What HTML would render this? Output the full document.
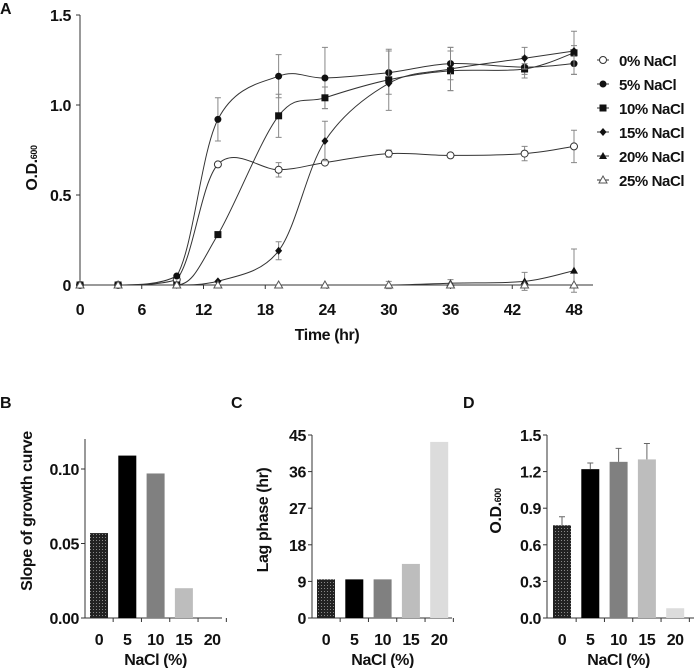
<!DOCTYPE html>
<html><head><meta charset="utf-8">
<style>
html,body{margin:0;padding:0;background:#fff;}
svg{display:block;}
text{font-family:"Liberation Sans",Arial,sans-serif;font-weight:bold;fill:#111;letter-spacing:-0.4px;}
</style></head>
<body>
<svg id="fig" width="694" height="668" viewBox="0 0 694 668" xmlns="http://www.w3.org/2000/svg">
<defs>
<pattern id="dots" width="3" height="3" patternUnits="userSpaceOnUse">
<rect width="3" height="3" fill="#222"/><rect x="0" y="0" width="1" height="1" fill="#888"/>
</pattern>
</defs>
</svg>
<script>
// ---- Panel A data ----
const timesA = [0, 3.7, 9.4, 13.4, 19.3, 23.8, 30, 36, 43.2, 48];
const od0  = [0, 0, 0.03, 0.67, 0.64, 0.68, 0.73, 0.72, 0.73, 0.77];
const od5  = [0, 0, 0.05, 0.92, 1.16, 1.15, 1.18, 1.23, 1.21, 1.23];
const od10 = [0, 0, 0, 0.28, 0.94, 1.04, 1.14, 1.19, 1.20, 1.29];
const od15 = [0, 0, 0, 0.02, 0.19, 0.80, 1.12, 1.20, 1.26, 1.30];
const od20 = [0, 0, 0, 0, 0, 0, 0, 0.01, 0.02, 0.08];
const od25 = [0, 0, 0, 0, 0, 0, 0, 0, 0, 0];
const err0  = [0, 0, 0, 0, 0.04, 0, 0.02, 0, 0.04, 0.09];
const err5  = [0, 0, 0, 0.12, 0.12, 0.17, 0.12, 0.09, 0.06, 0.06];
const err10 = [0, 0, 0, 0, 0.12, 0.06, 0.17, 0.11, 0.03, 0.12];
const err15 = [0, 0, 0, 0, 0.05, 0.11, 0, 0.12, 0.06, 0.03];
const err20 = [0, 0, 0, 0, 0, 0, 0.02, 0.02, 0.05, 0.12];
const err25 = [0, 0, 0, 0, 0, 0, 0, 0, 0, 0];
const xTicksA = [0, 6, 12, 18, 24, 30, 36, 42, 48];
const yTicksA = [0, 0.5, 1.0, 1.5];
const yTickLabelsA = ["0", "0.5", "1.0", "1.5"];
const legendLabels = ["0% NaCl", "5% NaCl", "10% NaCl", "15% NaCl", "20% NaCl", "25% NaCl"];
// ---- Panels B/C/D data ----
const nacl = ["0", "5", "10", "15", "20"];
const slopes = [0.057, 0.109, 0.097, 0.020, 0];
const lagPhase = [9.5, 9.5, 9.5, 13.3, 43.3];
const finalOD = [0.76, 1.22, 1.28, 1.30, 0.08];
const finalErr = [0.07, 0.05, 0.11, 0.13, 0];
const yTicksB = [0, 0.05, 0.10];
const yTickLabelsB = ["0.00", "0.05", "0.10"];
const yTicksC = [0, 9, 18, 27, 36, 45];
const yTicksD = [0, 0.3, 0.6, 0.9, 1.2, 1.5];
const yTickLabelsD = ["0.0", "0.3", "0.6", "0.9", "1.2", "1.5"];

const NS = "http://www.w3.org/2000/svg";
const svg = document.getElementById("fig");
function mk(tag, attrs, parent) {
  const e = document.createElementNS(NS, tag);
  for (const k in attrs) e.setAttribute(k, attrs[k]);
  (parent || svg).appendChild(e);
  return e;
}
function txt(s, x, y, size, anchor, parent) {
  const t = mk("text", {x: x, y: y, "font-size": size, "text-anchor": anchor || "middle"}, parent);
  t.textContent = s;
  return t;
}

// ===== Panel A =====
const gA = mk("g", {});


const ax = t => 80 + (t / 48) * (574 - 80);
const ay = v => 285 - (v / 1.5) * (285 - 15);
const lblA = txt("A", 0, 14, 16, "start", gA);


const axA = mk("path", {d: `M80,${ay(1.5)} V285 H593`, stroke: "#333", "stroke-width": 1, fill: "none"}, gA);


yTicksA.forEach((v, i) => {
  mk("line", {x1: 76, x2: 80, y1: ay(v), y2: ay(v), stroke: "#333"}, gA);
  const t = txt(yTickLabelsA[i], 71, ay(v) + 6, 16, "end", gA);
  
  
});
xTicksA.forEach(v => {
  mk("line", {x1: ax(v), x2: ax(v), y1: 285, y2: 289, stroke: "#333"}, gA);
  const t = txt(String(v), ax(v), 315, 16, "middle", gA);
  
  
});
const xtA = txt("Time (hr)", ax(24), 340, 16, "middle", gA);


const ytA = mk("text", {x: 0, y: 0, "font-size": 16, "text-anchor": "middle", transform: `translate(37,168) rotate(-90)`}, gA);
ytA.innerHTML = 'O.D.<tspan font-size="9">600</tspan>';



const yFloor = ay(0);
function smoothPath(pts) {
  let d = `M${pts[0][0]},${pts[0][1]}`;
  for (let i = 0; i < pts.length - 1; i++) {
    const p0 = pts[i - 1] || pts[i], p1 = pts[i], p2 = pts[i + 1], p3 = pts[i + 2] || p2;
    const c1 = [p1[0] + (p2[0] - p0[0]) / 6, Math.min(yFloor, p1[1] + (p2[1] - p0[1]) / 6)];
    const c2 = [p2[0] - (p3[0] - p1[0]) / 6, Math.min(yFloor, p2[1] - (p3[1] - p1[1]) / 6)];
    if (p1[1] === yFloor && p2[1] === yFloor) { c1[1] = yFloor; c2[1] = yFloor; }
    if (p1[1] === yFloor) c1[1] = yFloor;
    d += ` C${c1[0]},${c1[1]} ${c2[0]},${c2[1]} ${p2[0]},${p2[1]}`;
  }
  return d;
}
function marker(type, x, y, parent) {
  let m;
  if (type === "circle-open") m = mk("circle", {cx: x, cy: y, r: 3.5, fill: "#fff", stroke: "#333", "stroke-width": 1}, parent);
  else if (type === "circle") m = mk("circle", {cx: x, cy: y, r: 3.5, fill: "#111"}, parent);
  else if (type === "square") m = mk("rect", {x: x - 3.5, y: y - 3.5, width: 7, height: 7, fill: "#111"}, parent);
  else if (type === "diamond") m = mk("path", {d: `M${x},${y-4} L${x+3.5},${y} L${x},${y+4} L${x-3.5},${y} Z`, fill: "#111"}, parent);
  else if (type === "tri") m = mk("path", {d: `M${x},${y-4} L${x+4},${y+3} L${x-4},${y+3} Z`, fill: "#111"}, parent);
  else m = mk("path", {d: `M${x},${y-4} L${x+4},${y+3} L${x-4},${y+3} Z`, fill: "#fff", stroke: "#555"}, parent);
  return m;
}
const seriesVals = [od0, od5, od10, od15, od20, od25];
const seriesErr = [err0, err5, err10, err15, err20, err25];
const markerTypes = ["circle-open", "circle", "square", "diamond", "tri", "tri-open"];
seriesVals.forEach((vals, s) => {
  const g = mk("g", {}, gA);
  
  
  const pts = vals.map((v, i) => [ax(timesA[i]), ay(v)]);
  mk("path", {d: smoothPath(pts), fill: "none", stroke: "#333", "stroke-width": 1}, g);
  vals.forEach((v, i) => {
    const e = seriesErr[s][i];
    if (e > 0) {
      const x = ax(timesA[i]);
      mk("path", {d: `M${x},${ay(v - e)} V${ay(v + e)} M${x-3},${ay(v + e)} H${x+3} M${x-3},${ay(v - e)} H${x+3}`, stroke: "#888", "stroke-width": 1, fill: "none"}, g);
    }
  });
  vals.forEach((v, i) => {
    const m = marker(markerTypes[s], ax(timesA[i]), ay(v), g);
    
    
  });
});
const leg = mk("g", {}, gA);


legendLabels.forEach((l, i) => {
  const y = 60 + i * 24;
  const e = mk("g", {}, leg);
  
  
  mk("line", {x1: 597, x2: 609, y1: y, y2: y, stroke: "#333"}, e);
  marker(markerTypes[i], 603, y, e);
  txt(l, 619, y + 6, 15, "start", e);
});

// ===== Bar panels =====
const barFills = ["url(#dots)", "#000", "#808080", "#bdbdbd", "#dcdcdc"];
function barPanel(opts) {
  const g = mk("g", {});
  
  
  const y0 = 618, yTop = opts.yTop;
  const sy = v => y0 - (v / opts.max) * (y0 - opts.maxY);
  const l = txt(opts.label, opts.labelX, 408, 16, "start", g);
  
  
  const a = mk("path", {d: `M${opts.axisX},${yTop} V${y0} H${opts.xEnd}`, stroke: "#333", fill: "none"}, g);
  
  
  opts.ticks.forEach((v, i) => {
    mk("line", {x1: opts.axisX - 4, x2: opts.axisX, y1: sy(v), y2: sy(v), stroke: "#333"}, g);
    const t = txt(opts.tickLabels[i], opts.axisX - 6, sy(v) + 6, 16, "end", g);
    
    
  });
  const step = 28.3;
  nacl.forEach((c, i) => {
    const cx = opts.firstX + i * step;
    mk("line", {x1: cx + step / 2, x2: cx + step / 2, y1: y0, y2: y0 + 4, stroke: "#333"}, g);
    const t = txt(c, cx, 645, 16, "middle", g);
    
    
    const v = opts.values[i];
    if (v > 0) {
      const b = mk("rect", {x: cx - 9, y: sy(v), width: 18, height: y0 - sy(v), fill: barFills[i]}, g);
      
      
    }
    if (opts.errs && opts.errs[i] > 0) {
      const e = opts.errs[i];
      mk("path", {d: `M${cx},${sy(v)} V${sy(v + e)} M${cx-3},${sy(v + e)} H${cx+3}`, stroke: "#666", fill: "none"}, g);
    }
  });
  const xt = txt("NaCl (%)", opts.firstX + 2 * step, 665, 16, "middle", g);
  
  
  const yt = mk("text", {x: 0, y: 0, "font-size": 16, "text-anchor": "middle", transform: `translate(${opts.ytX},${opts.ytY}) rotate(-90)`}, g);
  yt.innerHTML = opts.yTitle;
  
  
}
barPanel({name: "panel-b-slope", label: "B", labelX: 0, axisX: 85, xEnd: 222, yTop: 439, max: 0.10, maxY: 469,
  ticks: yTicksB, tickLabels: yTickLabelsB, firstX: 99, values: slopes, ytX: 32, ytY: 511, yTitle: "Slope of growth curve"});
barPanel({name: "panel-c-lag-phase", label: "C", labelX: 231, axisX: 312, xEnd: 452, yTop: 435, max: 45, maxY: 435,
  ticks: yTicksC, tickLabels: yTicksC.map(String), firstX: 326, values: lagPhase, ytX: 268, ytY: 520, yTitle: "Lag phase (hr)"});
barPanel({name: "panel-d-final-od", label: "D", labelX: 463, axisX: 547, xEnd: 694, yTop: 435, max: 1.5, maxY: 435,
  ticks: yTicksD, tickLabels: yTickLabelsD, firstX: 562, values: finalOD, errs: finalErr, ytX: 501, ytY: 511, yTitle: 'O.D.<tspan font-size="9">600</tspan>'});
</script>
</body></html>
